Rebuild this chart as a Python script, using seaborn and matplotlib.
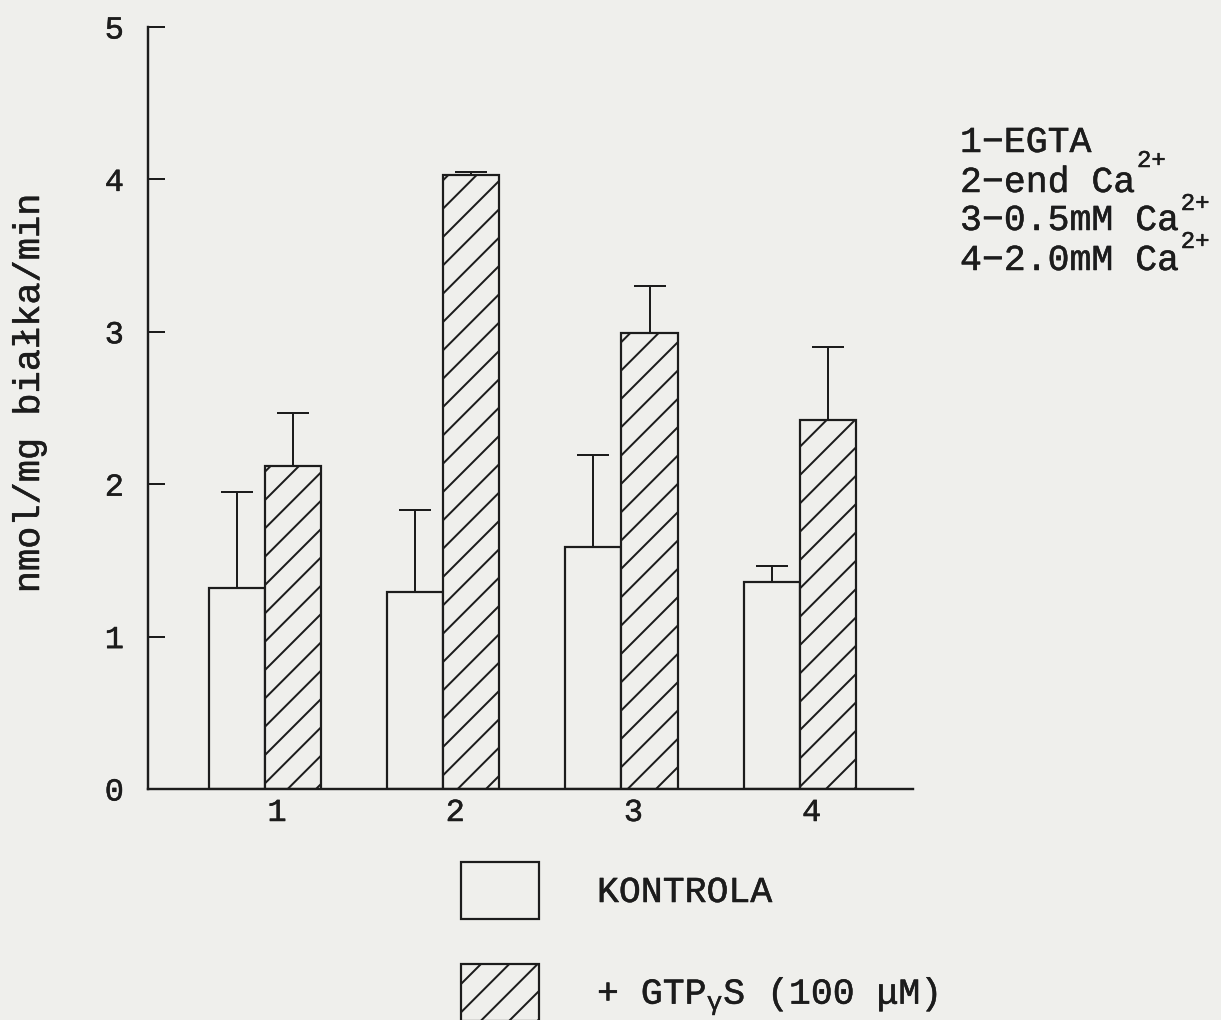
import numpy as np
import pandas as pd
import matplotlib
matplotlib.use("Agg")
import matplotlib.pyplot as plt
import matplotlib.transforms as mtransforms
import matplotlib.patheffects as pe
import seaborn as sns

# ---- data -------------------------------------------------------------
conditions = ["1", "2", "3", "4"]
control_mean = [1.32, 1.29, 1.59, 1.36]
control_sd = [0.63, 0.54, 0.60, 0.10]
gtp_mean = [2.12, 4.03, 2.99, 2.42]
gtp_sd = [0.35, 0.02, 0.31, 0.48]
series_labels = ["KONTROLA", "+ GTP$_\\mathregular{γ}$S (100 μM)"]
y_ticks = [0, 1, 2, 3, 4, 5]
key_lines = ["1−EGTA", "2−end Ca", "3−0.5mM Ca", "4−2.0mM Ca"]
key_sup = ["", "2+", "2+", "2+"]

# ---- layout / style ---------------------------------------------------
DPI = 170
W, H = 1221, 1020
PT = 72 / DPI            # points per pixel
PAPER = "#efefec"
INK = "#1c1c1c"
FS_PX = 36.5
FS = FS_PX * PT          # main text size
HEAVY = [pe.withStroke(linewidth=0.5 * PT, foreground=INK)]

sns.set_theme(style="ticks")
plt.rcParams["font.family"] = ["Liberation Mono", "DejaVu Sans Mono"]
plt.rcParams["mathtext.fontset"] = "custom"
plt.rcParams["mathtext.rm"] = "Liberation Mono"
plt.rcParams["hatch.color"] = INK
plt.rcParams["hatch.linewidth"] = 2.0 * PT
plt.rcParams["text.color"] = INK

fig = plt.figure(figsize=(W / DPI, H / DPI), dpi=DPI, facecolor=PAPER)
ax = fig.add_axes([148 / W, 1 - 789 / H, (913 - 148) / W, (789 - 27) / H])
ax.set_facecolor(PAPER)

df = pd.DataFrame({
    "condition": conditions * 2,
    "value": control_mean + gtp_mean,
    "series": [series_labels[0]] * len(conditions) + [series_labels[1]] * len(conditions),
})

sns.barplot(data=df, x="condition", y="value", hue="series",
            palette=[PAPER, PAPER], saturation=1, edgecolor=INK,
            linewidth=2.2 * PT, width=0.63, errorbar=None, legend=False, ax=ax)

bars_ctrl, bars_gtp = ax.containers[0], ax.containers[1]
for p in bars_gtp:
    p.set_hatch("//")

# one-sided (upper) error bars centred on each bar
for cont, sd in ((bars_ctrl, control_sd), (bars_gtp, gtp_sd)):
    xs = [p.get_x() + p.get_width() / 2 for p in cont]
    ys = [p.get_height() for p in cont]
    ax.errorbar(xs, ys, yerr=[np.zeros(len(sd)), sd], fmt="none",
                ecolor=INK, elinewidth=2.0 * PT, capsize=16 * PT,
                capthick=2.0 * PT, zorder=3)

ax.set_xlim(-0.657, 3.636)
ax.set_ylim(0, 5)
ax.set_yticks(y_ticks)
ax.set_yticklabels([str(t) for t in y_ticks])
sns.despine(ax=ax)
for side in ("left", "bottom"):
    ax.spines[side].set_linewidth(2.4 * PT)
    ax.spines[side].set_color(INK)

ax.tick_params(axis="y", direction="in", length=17 * PT, width=2.0 * PT,
               pad=24 * PT, labelsize=32 * PT, colors=INK)
ax.tick_params(axis="x", length=0, pad=9 * PT, labelsize=32 * PT, colors=INK)
shift = mtransforms.ScaledTranslation(12 / DPI, 0, fig.dpi_scale_trans)
for lab in ax.get_xticklabels():
    lab.set_transform(lab.get_transform() + shift)
for lab in ax.get_xticklabels() + ax.get_yticklabels():
    lab.set_path_effects(HEAVY)

ax.set_xlabel("")
ax.set_ylabel("nmol/mg białka/min", fontsize=37 * PT, color=INK,
              path_effects=HEAVY)
ax.yaxis.set_label_coords((47 - 148) / 765, (789 - 393) / 762)

# condition key, upper right
key_base = [152, 192, 230, 270]
sup_base = [None, 167, 210, 248]
for line, sup, yb, ys in zip(key_lines, key_sup, key_base, sup_base):
    t = fig.text(960 / W, 1 - yb / H, line, fontsize=FS, ha="left",
                 va="baseline", color=INK, path_effects=HEAVY)
    if sup:
        ax.annotate(sup, xy=(1.0, H - ys), xycoords=(t, "figure pixels"),
                    xytext=(2, 0), textcoords="offset pixels",
                    fontsize=24 * PT, ha="left", va="baseline",
                    color=INK, annotation_clip=False, path_effects=HEAVY)

# series legend, below the axes
leg = fig.legend(handles=[bars_ctrl, bars_gtp], labels=series_labels,
                 loc="upper left", bbox_to_anchor=(461 / W, 1 - 862 / H),
                 frameon=False, fontsize=FS, handlelength=78 / FS_PX,
                 handleheight=2.02, labelspacing=45 / FS_PX,
                 handletextpad=58 / FS_PX, borderpad=0, borderaxespad=0)
for txt in leg.get_texts():
    txt.set_path_effects(HEAVY)

fig.savefig("out.png", dpi=DPI, facecolor=PAPER)
